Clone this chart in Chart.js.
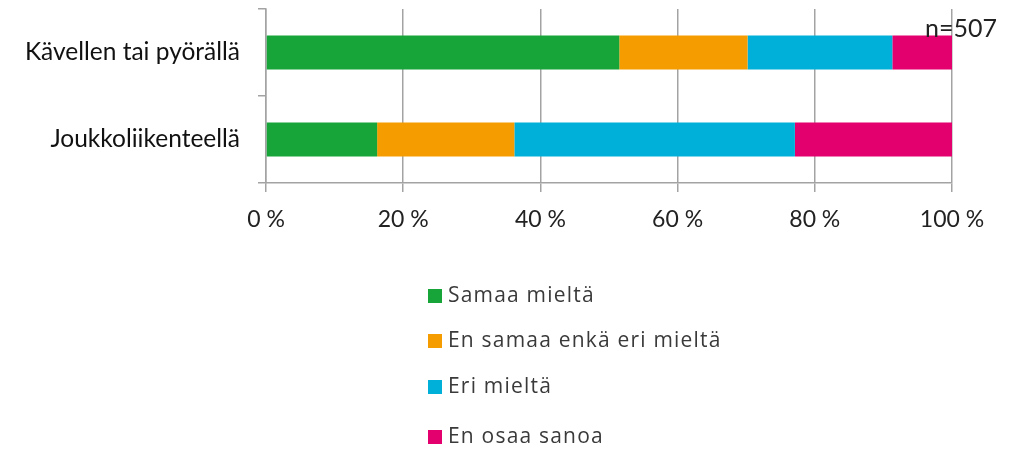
<!DOCTYPE html>
<html>
<head>
<meta charset="utf-8">
<script src="https://cdn.jsdelivr.net/npm/chart.js@4"></script>
<style>
html, body { margin: 0; padding: 0; background: #fff; }
#wrap { width: 1015px; height: 449px; }
</style>
</head>
<body>
<div id="wrap"><canvas id="chart" width="1015" height="449"></canvas></div>
<script>
const categories = ["Kävellen tai pyörällä", "Joukkoliikenteellä"];
const seriesNames = ["Samaa mieltä", "En samaa enkä eri mieltä", "Eri mieltä", "En osaa sanoa"];
const samaa = [51.5, 16.2];
const neutraali = [18.7, 20.0];
const eri = [21.1, 40.9];
const eos = [8.7, 22.9];
const xTicks = [0, 20, 40, 60, 80, 100];
const colors = ["#17a539", "#f59c00", "#00b0d9", "#e3006e"];
const note = "n=507";

const gridColor = "#a3a3a3";

// legend drawn as a vertical list under the axis
const listLegend = {
    id: "listLegend",
    afterDraw(chart) {
        const c = chart.ctx;
        c.save();
        c.font = "21px 'Open Sans'";
        c.letterSpacing = "1.2px";
        c.textBaseline = "middle";
        const ys = [296, 341, 387, 437];
        chart.data.datasets.forEach((ds, i) => {
            c.fillStyle = ds.backgroundColor;
            c.fillRect(428, ys[i] - 7, 14, 14);
            c.fillStyle = "#3a3a3a";
            c.fillText(ds.label, 448, ys[i]);
        });
        c.letterSpacing = "0px";
        c.font = "25px Lato";
        c.fillStyle = "#222";
        c.textBaseline = "alphabetic";
        c.fillText(note, 925, 37);
        c.restore();
    }
};

const ctx = document.getElementById("chart").getContext("2d");

new Chart(ctx, {
    type: "bar",
    data: {
        labels: categories,
        datasets: [samaa, neutraali, eri, eos].map((d, i) => ({
            label: seriesNames[i],
            data: d,
            backgroundColor: colors[i],
            borderWidth: 0,
            categoryPercentage: 0.39,
            barPercentage: 1
        }))
    },
    options: {
        indexAxis: "y",
        responsive: false,
        animation: false,
        layout: { padding: { top: 9, right: 63, left: 0, bottom: 0 } },
        plugins: { legend: { display: false }, tooltip: { enabled: false } },
        scales: {
            x: {
                stacked: true,
                min: 0,
                max: 100,
                afterFit: s => { s.height = 266; s.paddingLeft = 0; s.paddingRight = 0; },
                afterBuildTicks: s => { s.ticks = xTicks.map(v => ({ value: v })); },
                ticks: {
                    color: "#222",
                    font: { family: "Lato", size: 23 },
                    padding: 14,
                    callback: v => v + " %"
                },
                grid: { color: gridColor, lineWidth: 1.5, tickLength: 9 },
                border: { color: gridColor, width: 1.5 }
            },
            y: {
                stacked: true,
                afterFit: s => { s.width = 266; s.paddingTop = 0; s.paddingBottom = 0; },
                ticks: {
                    color: "#111",
                    font: { family: "Lato", size: 24.5 },
                    padding: 18
                },
                grid: { offset: true, drawOnChartArea: false, color: gridColor, lineWidth: 1.5, tickLength: 8 },
                border: { color: gridColor, width: 1.5 }
            }
        }
    },
    plugins: [listLegend]
});
</script>
</body>
</html>
